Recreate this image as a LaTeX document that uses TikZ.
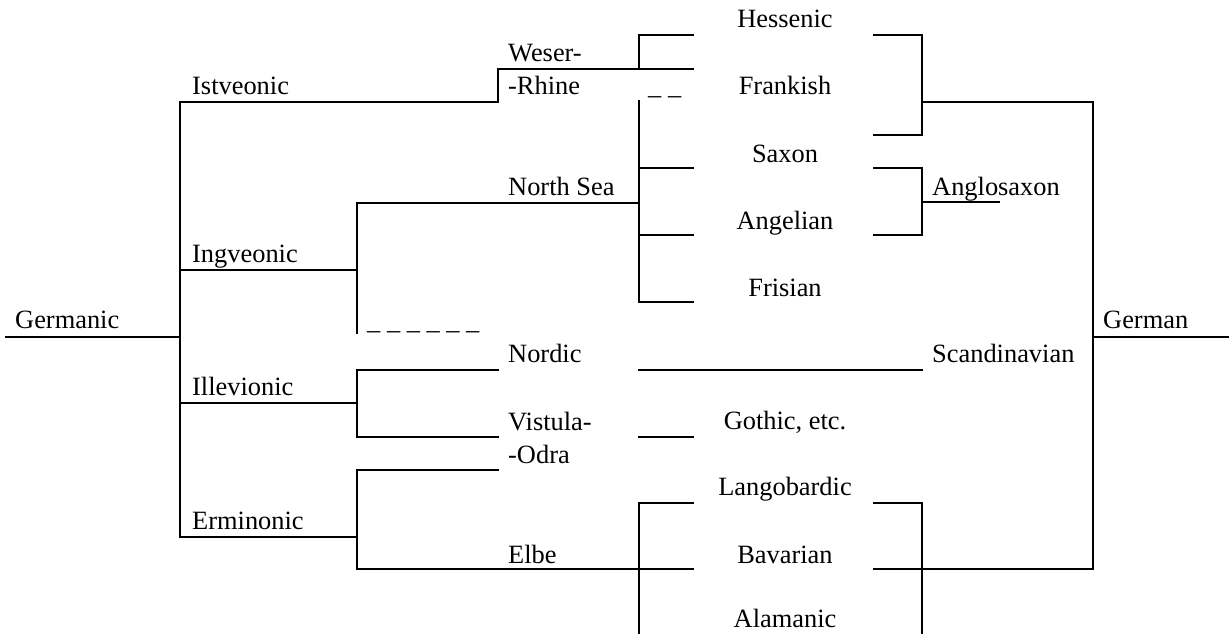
\documentclass[tikz,border=0pt]{standalone}
\usepackage{fontspec}
\setmainfont{Liberation Serif}
\usetikzlibrary{positioning}

\begin{document}
\begin{tikzpicture}[x=1pt, y=-1pt,
    lang/.style={inner sep=0pt, anchor=base west, font=\fontsize{26.4}{30}\selectfont},
    leaf/.style={lang, anchor=base},
    branch/.style={line width=1.3pt, line cap=rect}]
        \useasboundingbox (0,0) rectangle (1229,634);

        % Labels, left side
        \node[lang] (germanic) at (15,328) {Germanic};
        \node[lang] (istv) at (192,94) {Istveonic};
        \node[lang] (ingv) at (192,262) {Ingveonic};
        \node[lang] (illev) at (192,395) {Illevionic};
        \node[lang] (ermin) at (192,529) {Erminonic};

        % Labels, middle column
        \node[lang] (weser) at (508,62) {Weser-};
        \node[lang] (rhine) at (508,95) {-Rhine};
        \node[lang] (northsea) at (508,195) {North Sea};
        \node[lang] (nordic) at (508,362) {Nordic};
        \node[lang] (vistula) at (508,430) {Vistula-};
        \node[lang] (odra) at (508,463) {-Odra};
        \node[lang] (elbe) at (508,563) {Elbe};
        \node[lang] (gapA) at (648,94) {\_ \_};
        \node[lang] (gapB) at (367,329) {\_ \_ \_ \_ \_ \_};

        % Labels, dialects
        \node[leaf] (hessenic) at (785,28) {Hessenic};
        \node[leaf] (frankish) at (785,95) {Frankish};
        \node[leaf] (saxon) at (785,162) {Saxon};
        \node[leaf] (angelian) at (785,229) {Angelian};
        \node[leaf] (frisian) at (785,296) {Frisian};
        \node[leaf] (gothic) at (785,429) {Gothic, etc.};
        \node[leaf] (langob) at (785,495) {Langobardic};
        \node[leaf] (bavarian) at (785,563) {Bavarian};
        \node[leaf] (alamanic) at (785,627) {Alamanic};

        % Labels, right side
        \node[lang] (anglosax) at (932,195) {Anglosaxon};
        \node[lang] (scandi) at (932,362) {Scandinavian};
        \node[lang] (german) at (1103,328) {German};

        % Junction points
        \coordinate (g0) at (6,337);
        \coordinate (g1) at (180,337);
        \coordinate (gtop) at (180,102);
        \coordinate (gbot) at (180,537);
        \coordinate (wr0) at (498,102);
        \coordinate (wr1) at (498,69);
        \coordinate (wr2) at (693,69);
        \coordinate (he0) at (639,69);
        \coordinate (he1) at (639,35);
        \coordinate (he2) at (693,35);
        \coordinate (ig0) at (180,270);
        \coordinate (igtop) at (357,203);
        \coordinate (igbot) at (357,333);
        \coordinate (ns0) at (639,203);
        \coordinate (nstop) at (639,101);
        \coordinate (sx) at (693,168);
        \coordinate (an) at (693,235);
        \coordinate (fr) at (693,302);
        \coordinate (il0) at (180,403);
        \coordinate (iltop) at (357,370);
        \coordinate (ilbot) at (357,437);
        \coordinate (nd) at (498,370);
        \coordinate (vi) at (498,437);
        \coordinate (er0) at (180,537);
        \coordinate (ertop) at (357,470);
        \coordinate (erbot) at (357,569);
        \coordinate (od) at (498,470);
        \coordinate (el) at (693,569);
        \coordinate (sc0) at (639,370);
        \coordinate (sc1) at (922,370);
        \coordinate (go0) at (639,437);
        \coordinate (go1) at (693,437);
        \coordinate (lb0) at (693,503);
        \coordinate (lb1) at (639,503);
        \coordinate (lb2) at (639,634);
        \coordinate (hr0) at (874,35);
        \coordinate (hr1) at (922,35);
        \coordinate (hr2) at (922,135);
        \coordinate (hr3) at (874,135);
        \coordinate (hr4) at (922,102);
        \coordinate (as0) at (874,168);
        \coordinate (as1) at (922,168);
        \coordinate (as2) at (922,235);
        \coordinate (as3) at (874,235);
        \coordinate (as4) at (922,202);
        \coordinate (as5) at (999,202);
        \coordinate (de0) at (1093,102);
        \coordinate (de1) at (1093,569);
        \coordinate (de2) at (1093,337);
        \coordinate (de3) at (1229,337);
        \coordinate (bv0) at (874,569);
        \coordinate (lr0) at (874,503);
        \coordinate (lr1) at (922,503);
        \coordinate (lr2) at (922,634);

        % Trunk
        \draw[branch] (g0) -- (g1);
        \draw[branch] (gtop) -- (gbot);

        % Istveonic
        \draw[branch] (gtop) -- (wr0) -- (wr1) -- (wr2);
        \draw[branch] (he2) -- (he1) -- (he0);

        % Ingveonic
        \draw[branch] (ig0) -- (ig0 -| igtop);
        \draw[branch] (igtop) -- (igbot);
        \draw[branch] (igtop) -- (ns0);
        \draw[branch] (nstop) -- (nstop |- fr) -- (fr);
        \draw[branch] (sx -| nstop) -- (sx);
        \draw[branch] (an -| nstop) -- (an);

        % Illevionic
        \draw[branch] (il0) -- (il0 -| iltop);
        \draw[branch] (nd) -- (iltop) -- (ilbot) -- (vi);
        \draw[branch] (sc0) -- (sc1);
        \draw[branch] (go0) -- (go1);

        % Erminonic
        \draw[branch] (er0) -- (er0 -| ertop);
        \draw[branch] (od) -- (ertop) -- (erbot) -- (el);
        \draw[branch] (lb0) -- (lb1) -- (lb2);

        % Right side
        \draw[branch] (hr0) -- (hr1) -- (hr2) -- (hr3);
        \draw[branch] (hr4) -- (de0);
        \draw[branch] (as0) -- (as1) -- (as2) -- (as3);
        \draw[branch] (as4) -- (as5);
        \draw[branch] (de0) -- (de1) -- (bv0);
        \draw[branch] (de2) -- (de3);
        \draw[branch] (lr0) -- (lr1) -- (lr2);
      \end{tikzpicture}
\end{document}
